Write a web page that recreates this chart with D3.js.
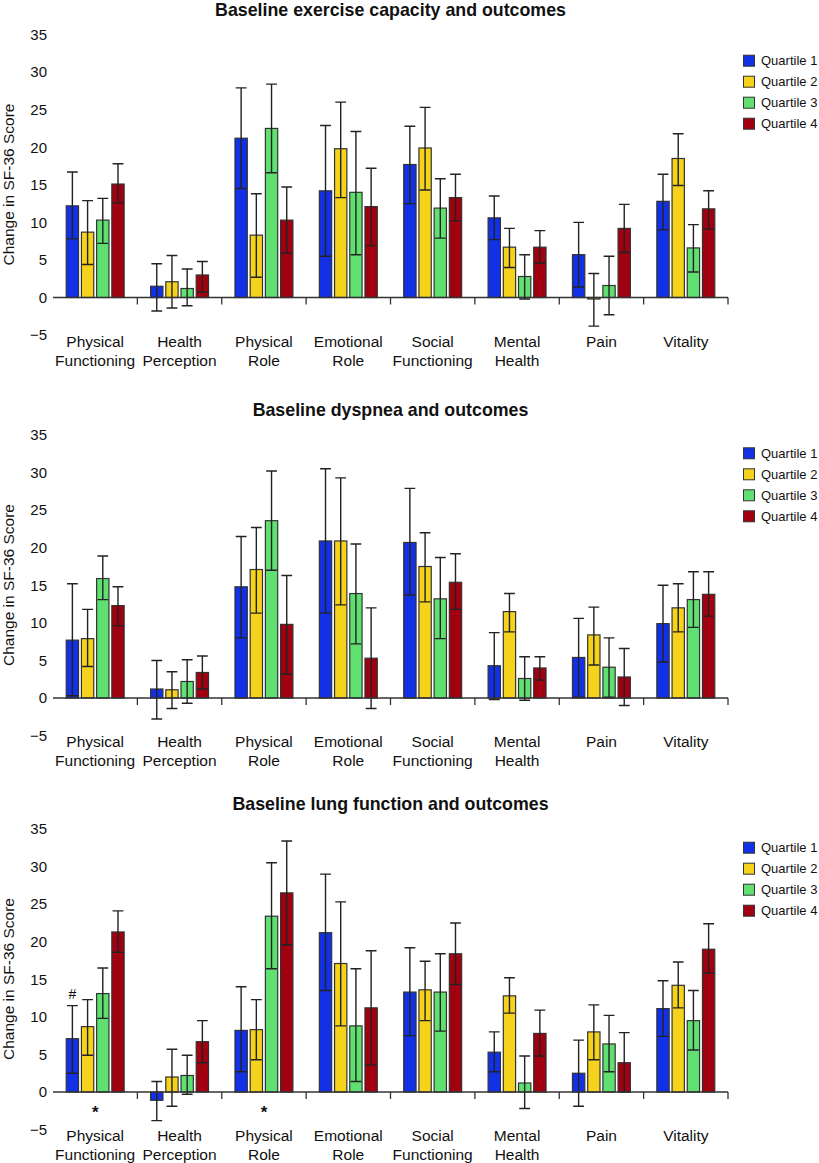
<html>
<script src='https://cdn.jsdelivr.net/npm/d3@7'></script>
<style>
body {margin:0; background:#fff;}
text {font-family: 'Liberation Sans', Arial, Helvetica, sans-serif; fill:#111;}
.bar {stroke:#333; stroke-width:1.2;}
.err {stroke:#222; stroke-width:1.4; fill:none;}
</style>
<body>
<svg width=819 height=1163></svg>
<script>
var categories = ['Physical Functioning','Health Perception','Physical Role','Emotional Role','Social Functioning','Mental Health','Pain','Vitality'];
var catLines = [['Physical','Functioning'],['Health','Perception'],['Physical','Role'],['Emotional','Role'],['Social','Functioning'],['Mental','Health'],['Pain'],['Vitality']];
var quartiles = ['Quartile 1','Quartile 2','Quartile 3','Quartile 4'];
var colors = ['#1230e6','#f5d31c','#60e070','#a0000f'];
var titles = ['Baseline exercise capacity and outcomes','Baseline dyspnea and outcomes','Baseline lung function and outcomes'];
var yTicks = [-5,0,5,10,15,20,25,30,35];

// mean change, one row per quartile
var exerciseMean = [[12.2,1.5,21.2,14.2,17.7,10.6,5.7,12.8],[8.7,2.1,8.3,19.8,19.9,6.7,-0.2,18.5],[10.3,1.2,22.5,14.0,11.9,2.8,1.6,6.6],[15.1,3.0,10.3,12.1,13.3,6.7,9.2,11.8]];
var exerciseLow = [[7.8,-1.8,14.5,5.5,12.5,7.7,1.4,9.0],[4.4,-1.4,2.7,13.3,14.3,4.0,-3.8,14.9],[7.2,-1.1,16.6,5.7,7.9,-0.2,-2.3,3.4],[12.6,0.7,5.9,6.9,10.2,4.6,6.0,9.1]];
var exerciseHigh = [[16.7,4.5,27.9,22.9,22.8,13.5,10.0,16.4],[12.9,5.6,13.8,26.0,25.3,9.2,3.2,21.8],[13.2,3.8,28.4,22.1,15.8,5.7,5.5,9.7],[17.8,4.8,14.7,17.2,16.4,8.9,12.4,14.2]];

var dyspneaMean = [[7.7,1.2,14.8,20.9,20.7,4.3,5.4,9.9],[7.9,1.1,17.1,20.9,17.5,11.5,8.4,12.0],[15.9,2.2,23.6,13.9,13.2,2.6,4.1,13.1],[12.3,3.4,9.8,5.3,15.4,4.0,2.8,13.8]];
var dyspneaLow = [[0.3,-2.8,8.0,11.3,13.7,-0.2,0.1,4.8],[4.2,-1.4,11.3,12.4,12.8,8.8,4.4,8.8],[13.1,-0.7,17.0,7.2,7.9,-0.3,0.1,9.4],[9.6,1.2,3.2,-1.4,11.8,2.4,-1.0,10.9]];
var dyspneaHigh = [[15.2,5.0,21.5,30.5,27.9,8.7,10.6,15.0],[11.8,3.5,22.7,29.3,22.0,13.9,12.1,15.2],[18.9,5.1,30.2,20.5,18.7,5.5,8.0,16.8],[14.8,5.6,16.3,12.0,19.2,5.5,6.6,16.8]];

var lungMean = [[7.1,-1.1,8.2,21.2,13.3,5.3,2.5,11.1],[8.7,2.0,8.3,17.1,13.6,12.8,8.0,14.2],[13.1,2.2,23.4,8.8,13.3,1.2,6.4,9.5],[21.3,6.7,26.5,11.2,18.4,7.8,3.9,19.0]];
var lungLow = [[2.5,-3.8,2.7,13.5,7.5,2.7,-1.9,7.4],[4.9,-1.9,4.3,8.8,9.5,10.5,4.3,11.2],[9.8,-0.3,16.4,1.4,8.1,-2.2,2.7,5.6],[18.6,3.9,19.6,3.6,14.3,4.8,0.0,15.8]];
var lungHigh = [[11.5,1.4,14.0,29.0,19.2,8.0,6.9,14.8],[12.3,5.7,12.3,25.3,17.4,15.2,11.6,17.3],[16.5,4.9,30.5,16.4,18.4,4.8,10.2,13.5],[24.1,9.5,33.4,18.8,22.5,10.9,7.9,22.4]];

// significance marks on the lung panel
var markText = ['#','*','*'];
var markCat = ['Physical Functioning','Physical Functioning','Physical Role'];
var markQuartile = ['Quartile 1',null,null];
var markValue = [12.4,-3.4,-3.4];

var panels = [
  {mean:exerciseMean, low:exerciseLow, high:exerciseHigh, top:34.5, legendY:60.7},
  {mean:dyspneaMean, low:dyspneaLow, high:dyspneaHigh, top:435, legendY:453.3},
  {mean:lungMean, low:lungLow, high:lungHigh, top:829, legendY:847.7}
];

var svg = d3.select('svg');
var x0 = d3.scaleBand().domain(categories).range([53,728]).padding(0);
var x1 = d3.scaleBand().domain(quartiles).range([0,x0.bandwidth()]).paddingInner(0.19).paddingOuter(0.87);
var capW = x1.bandwidth()-1.5;
var minus = function(d){return d<0 ? '\u2212'+Math.abs(d) : d;};

panels.forEach(function(p,pi){
  var ys = d3.scaleLinear().domain([-5,35]).range([p.top+300.6,p.top]);
  var g = svg.append('g');

  g.append('text').attr('x',390.5).attr('y',p.top-19).attr('text-anchor','middle')
   .style('font-weight','bold').style('font-size','17.8px').text(titles[pi]);

  g.append('text').attr('transform','translate(14,'+(p.top+150)+') rotate(-90)')
   .attr('text-anchor','middle').style('font-size','15.5px').text('Change in SF-36 Score');

  var ax = g.append('g').attr('transform','translate(53,0)')
   .call(d3.axisLeft(ys).tickValues(yTicks).tickSize(0).tickPadding(6).tickFormat(minus));
  ax.select('.domain').remove();
  ax.selectAll('text').style('font-size','15px').attr('fill','#111');

  // bars
  quartiles.forEach(function(q,qi){
    var rows = categories.map(function(c,ci){return {c:c, v:p.mean[qi][ci], lo:p.low[qi][ci], hi:p.high[qi][ci]};});
    var gq = g.append('g');
    gq.selectAll('rect').data(rows).enter().append('rect').attr('class','bar')
      .attr('x',function(d){return x0(d.c)+x1(q);})
      .attr('y',function(d){return ys(Math.max(0,d.v));})
      .attr('width',x1.bandwidth())
      .attr('height',function(d){return Math.abs(ys(d.v)-ys(0));})
      .attr('fill',colors[qi]);
    var cx = function(d){return x0(d.c)+x1(q)+x1.bandwidth()/2;};
    gq.selectAll('path').data(rows).enter().append('path').attr('class','err')
      .attr('d',function(d){
        var c = cx(d), a = ys(d.hi), b = ys(d.lo);
        return 'M'+c+','+a+'V'+b+'M'+(c-capW/2)+','+a+'H'+(c+capW/2)+'M'+(c-capW/2)+','+b+'H'+(c+capW/2);
      });
  });

  // x axis
  var y0 = ys(0);
  g.append('line').attr('x1',53).attr('x2',728).attr('y1',y0).attr('y2',y0)
   .attr('stroke','#333').attr('stroke-width',1.5);
  g.selectAll('.xt').data(categories).enter().append('line')
   .attr('x1',function(d){return x0(d)+x0.bandwidth();}).attr('x2',function(d){return x0(d)+x0.bandwidth();})
   .attr('y1',y0).attr('y2',y0+7).attr('stroke','#333').attr('stroke-width',1.3);
  categories.forEach(function(c,ci){
    var t = g.append('text').attr('text-anchor','middle').style('font-size','15.5px')
      .attr('x',x0(c)+x0.bandwidth()/2).attr('y',y0+49);
    catLines[ci].forEach(function(l,li){
      t.append('tspan').attr('x',x0(c)+x0.bandwidth()/2).attr('dy',li ? 19 : 0).text(l);
    });
  });

  // legend
  var lg = g.append('g').attr('transform','translate(743.5,'+p.legendY+')');
  quartiles.forEach(function(q,qi){
    lg.append('rect').attr('x',0).attr('y',qi*21-5.5).attr('width',11).attr('height',11)
      .attr('fill',colors[qi]).attr('stroke','#333').attr('stroke-width',1);
    lg.append('text').attr('x',17.5).attr('y',qi*21).attr('dy','0.36em').style('font-size','13px').text(q);
  });

  if (pi == 2) {
    markText.forEach(function(m,mi){
      var mx = x0(markCat[mi]) + (markQuartile[mi] ? x1(markQuartile[mi])+x1.bandwidth()/2 : x0.bandwidth()/2);
      g.append('text').attr('x',mx).attr('y',ys(markValue[mi])).attr('text-anchor','middle')
       .style('font-size', m == '*' ? '17px' : '14px').style('font-weight', m == '*' ? 'bold' : 'normal').text(m);
    });
  }
});
</script>
</body>
</html>
